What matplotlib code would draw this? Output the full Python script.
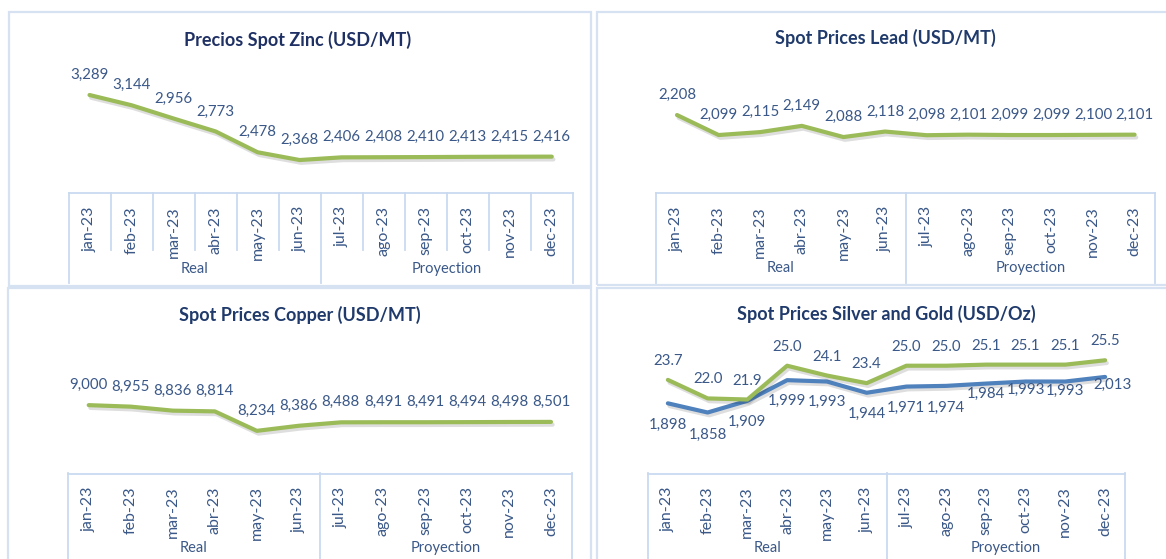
import matplotlib
matplotlib.use("Agg")
import matplotlib.pyplot as plt
import matplotlib.patheffects as pe
from matplotlib.patches import Rectangle

plt.rcParams['font.family'] = ['Lato', 'DejaVu Sans']

# ---------------- data ----------------
months = ['jan-23', 'feb-23', 'mar-23', 'abr-23', 'may-23', 'jun-23',
          'jul-23', 'ago-23', 'sep-23', 'oct-23', 'nov-23', 'dec-23']
groups = ['Real', 'Proyection']

zinc = [3289, 3144, 2956, 2773, 2478, 2368, 2406, 2408, 2410, 2413, 2415, 2416]
lead = [2208, 2099, 2115, 2149, 2088, 2118, 2098, 2101, 2099, 2099, 2100, 2101]
copper = [9000, 8955, 8836, 8814, 8234, 8386, 8488, 8491, 8491, 8494, 8498, 8501]
silver = [23.7, 22.0, 21.9, 25.0, 24.1, 23.4, 25.0, 25.0, 25.1, 25.1, 25.1, 25.5]
gold = [1898, 1858, 1909, 1999, 1993, 1944, 1971, 1974, 1984, 1993, 1993, 2013]

titles = ['Precios Spot Zinc (USD/MT)', 'Spot Prices Lead (USD/MT)',
          'Spot Prices Copper (USD/MT)', 'Spot Prices Silver and Gold (USD/Oz)']

# ---------------- style ----------------
W, H = 1166, 559
GREEN = '#9BBB59'
BLUE = '#4F81BD'
LABEL = '#3A5888'
TITLE = '#1F3A6B'
GRID = '#C9DAF0'
BORDER = '#D6E2F1'
FS = 10.8
TFS = 11.5

fig = plt.figure(figsize=(W / 100, H / 100), dpi=100)
fig.patch.set_facecolor('white')


def px_axes(x0, y0, x1, y1):
    return fig.add_axes([x0 / W, 1 - y1 / H, (x1 - x0) / W, (y1 - y0) / H])


def clean(ax):
    for s in ax.spines.values():
        s.set_visible(False)
    ax.set_facecolor('none')
    ax.tick_params(left=False, labelleft=False, right=False, labelright=False,
                   bottom=False, top=False)


shadow = [pe.SimpleLineShadow(offset=(1.2, -2.0), shadow_color='#000000', alpha=0.13),
          pe.Normal()]


def panel_border(x0, y0, x1, y1):
    fig.add_artist(Rectangle((x0 / W, 1 - y1 / H), (x1 - x0) / W, (y1 - y0) / H,
                             transform=fig.transFigure, fill=False,
                             ec=BORDER, lw=1.6))


def category_box(x0, x1, ytop, ybot, inner, group_y):
    cat = px_axes(x0, ytop, x1, ybot)
    clean(cat)
    cat.tick_params(labelbottom=False)
    h = ybot - ytop
    cat.set_xlim(-0.5, 11.5)
    cat.set_ylim(h, 0)
    cat.plot([-0.5, 11.5], [0.5, 0.5], color=GRID, lw=1.3, clip_on=False)
    for k in range(13):
        xx = k - 0.5
        if k in (0, 6, 12):
            cat.plot([xx, xx], [0, h], color=GRID, lw=1.3, clip_on=False)
        elif inner:
            cat.plot([xx, xx], [0, 57], color=GRID, lw=1.3, clip_on=False)
    for gi, g in enumerate(groups):
        cat.text(2.5 + 6 * gi, group_y - ytop, g, ha='center', va='center',
                 fontsize=10.5, color=LABEL)


def line_axes(x0, x1, ytop, ybot, ylim):
    ax = px_axes(x0, ytop, x1, ybot)
    clean(ax)
    ax.set_xlim(-0.5, 11.5)
    ax.set_ylim(*ylim)
    ax.set_xticks(range(len(months)))
    ax.set_xticklabels(months, rotation=90, fontsize=TFS, color=LABEL)
    ax.tick_params(labelbottom=True, pad=6)
    return ax


def draw_series(ax, vals, color, fmt, offsets):
    ax.plot(range(len(vals)), vals, color=color, lw=3, solid_capstyle='round',
            solid_joinstyle='round', path_effects=shadow, clip_on=False)
    for i, v in enumerate(vals):
        dx, dy = offsets[i]
        ax.annotate(fmt(v), (i, v), xytext=(dx, dy), textcoords='offset pixels',
                    ha='center', va='center', fontsize=FS, color=LABEL,
                    annotation_clip=False)


fmt_int = lambda v: f"{v:,.0f}"
fmt_dec = lambda v: f"{v:.1f}"
above = [(0, 20)] * 12

# ---------------- panel borders ----------------
panel_border(9, 12, 591, 286)
panel_border(597, 12, 1172, 285)
panel_border(8, 288, 591, 570)
panel_border(597, 288, 1172, 570)

# ---------------- Zinc ----------------
ax = line_axes(68.5, 572.8, 60, 193, (1901, 3785))
draw_series(ax, zinc, GREEN, fmt_int, above)
category_box(68.5, 572.8, 193, 283, True, 269)
fig.text(297.5 / W, 1 - 40 / H, titles[0], ha='center', va='center',
         fontsize=13, fontweight='bold', color='#1F3064')

# ---------------- Lead ----------------
ax = line_axes(656.2, 1155.4, 60, 193, (1783, 2508))
draw_series(ax, lead, GREEN, fmt_int, above)
category_box(656.2, 1155.4, 193, 283, False, 268)
fig.text(885.6 / W, 1 - 38 / H, titles[1], ha='center', va='center',
         fontsize=13, fontweight='bold', color=TITLE)

# ---------------- Copper ----------------
ax = line_axes(67.7, 572, 340, 473.3, (6970, 10940))
draw_series(ax, copper, GREEN, fmt_int, above)
category_box(67.7, 572, 473.3, 575, False, 548)
fig.text(299.6 / W, 1 - 315 / H, titles[2], ha='center', va='center',
         fontsize=13, fontweight='bold', color=TITLE)

# ---------------- Silver and Gold ----------------
ax = line_axes(648, 1125, 340, 473.3, (1593, 2174))
ax2 = ax.twinx()
clean(ax)
ax.tick_params(labelbottom=True)
clean(ax2)
ax2.set_ylim(15.13, 27.36)
gold_off = [(0, -22), (0, -22), (0, -21), (0, -21), (0, -20), (0, -21),
            (0, -21), (0, -22), (0, -10), (0, -8), (0, -9), (7, -8)]
draw_series(ax, gold, BLUE, fmt_int, gold_off)
draw_series(ax2, silver, GREEN, fmt_dec, [(0, 19)] * 12)
category_box(648, 1125, 473.3, 575, False, 548)
fig.text(886.6 / W, 1 - 314 / H, titles[3], ha='center', va='center',
         fontsize=13, fontweight='bold', color=TITLE)

fig.savefig('out.png', dpi=100, facecolor='white')
